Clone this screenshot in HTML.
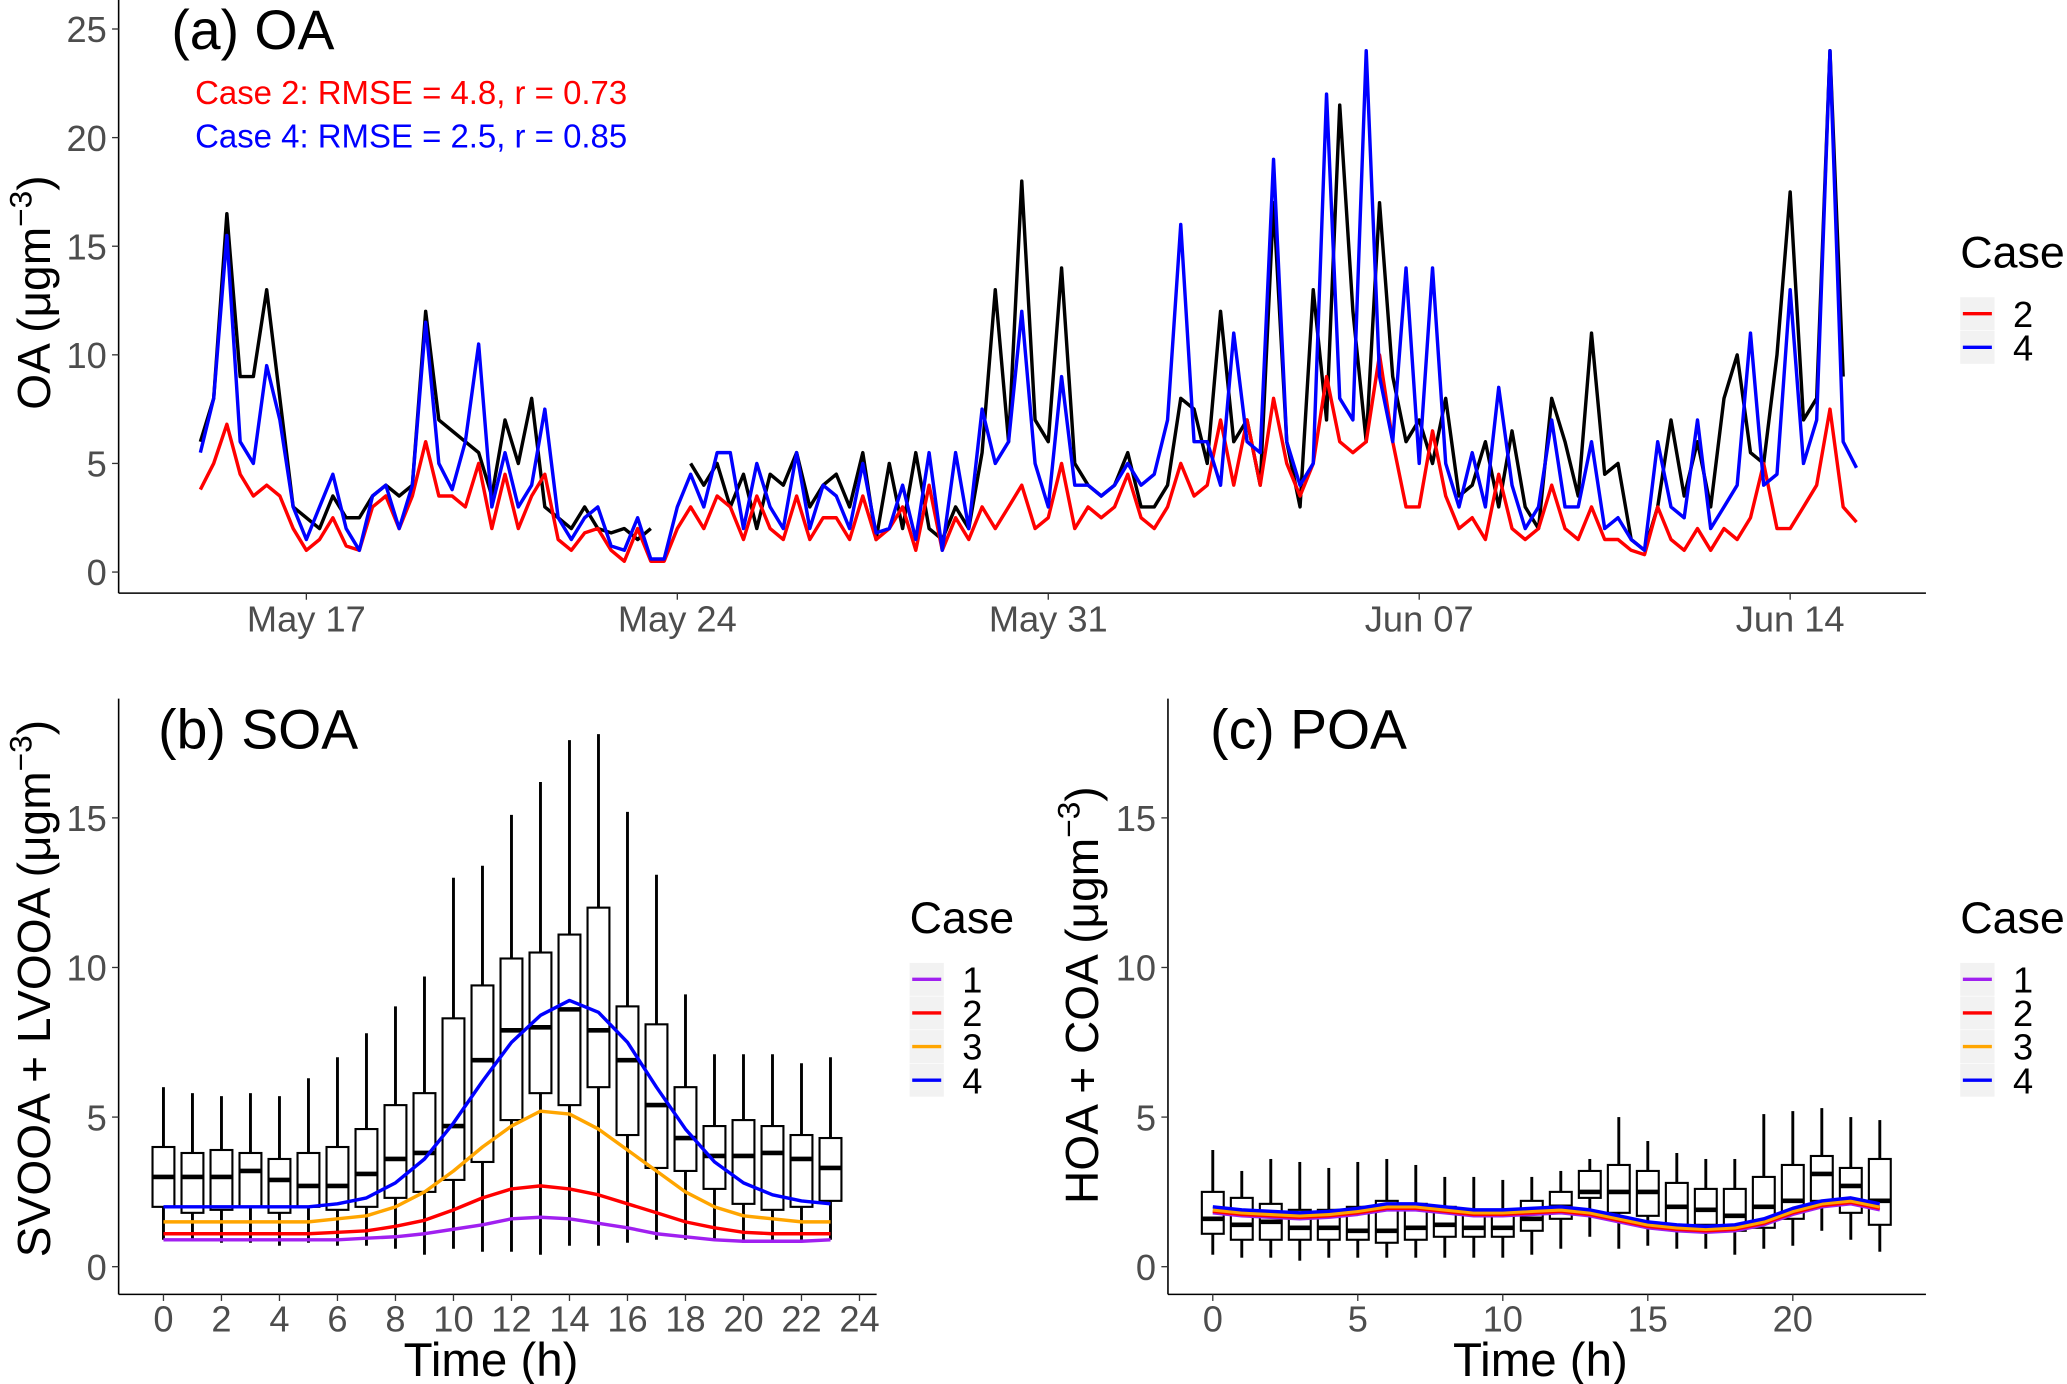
<!DOCTYPE html>
<html><head><meta charset="utf-8"><style>
html,body{margin:0;padding:0;background:#fff}
svg{display:block;font-family:"Liberation Sans",Arial,sans-serif}
</style></head><body>
<svg id="chart" width="2067" height="1384" viewBox="0 0 1568 1050" preserveAspectRatio="none" xmlns="http://www.w3.org/2000/svg">
<rect width="1568" height="1050" fill="#fff"/>
<g id="pa"></g>
<g id="pb"></g>
<g id="pc"></g>
</svg>
<script>
// ---------- Panel (a) data: 6-hourly samples starting May 15 00:00 ----------
const obsOA = [6,8,16.5,9, 9,13,8,3, 2.5,2,3.5,2.5, 2.5,3.5,4,3.5, 4,12,7,6.5, 6,5.5,3.5,7, 5,8,3,2.5, 2,3,2,1.8, 2,1.5,2,null, null,5,4,5, 3,4.5,2,4.5, 4,5.5,3,4, 4.5,3,5.5,1.5, 5,2,5.5,2, 1.5,3,2,5.5, 13,6,18,7, 6,14,5,4, 3.5,4,5.5,3, 3,4,8,7.5, 5,12,6,7, 4,17,6,3, 13,7,21.5,12, 6,17,9,6, 7,5,8,3.5, 4,6,3,6.5, 3,2,8,6, 3.5,11,4.5,5, 1.5,1,3,7, 3.5,6,3,8, 10,5.5,5,10, 17.5,7,8,24, 9];
const case4OA = [5.5,8,15.5,6, 5,9.5,7,3, 1.5,3,4.5,2, 1,3.5,4,2, 4,11.5,5,3.8, 6,10.5,3,5.5, 3,4,7.5,2.5, 1.5,2.5,3,1.2, 1,2.5,0.6,0.6, 3,4.5,3,5.5, 5.5,2,5,3, 2,5.5,2,4, 3.5,2,5,1.8, 2,4,1.5,5.5, 1,5.5,2,7.5, 5,6,12,5, 3,9,4,4, 3.5,4,5,4, 4.5,7,16,6, 6,4,11,6, 5.5,19,6,4, 5,22,8,7, 24,9,6,14, 5,14,5,3, 5.5,3,8.5,4, 2,3,7,3, 3,6,2,2.5, 1.5,1,6,3, 2.5,7,2,3, 4,11,4,4.5, 13,5,7,24, 6,4.8];
const case2OA = [3.8,5,6.8,4.5, 3.5,4,3.5,2, 1,1.5,2.5,1.2, 1,3,3.5,2, 3.5,6,3.5,3.5, 3,5,2,4.5, 2,3.5,4.5,1.5, 1,1.8,2,1, 0.5,2,0.5,0.5, 2,3,2,3.5, 3,1.5,3.5,2, 1.5,3.5,1.5,2.5, 2.5,1.5,3.5,1.5, 2,3,1,4, 1,2.5,1.5,3, 2,3,4,2, 2.5,5,2,3, 2.5,3,4.5,2.5, 2,3,5,3.5, 4,7,4,7, 4,8,5,3.5, 5,9,6,5.5, 6,10,6,3, 3,6.5,3.5,2, 2.5,1.5,4.5,2, 1.5,2,4,2, 1.5,3,1.5,1.5, 1,0.8,3,1.5, 1,2,1,2, 1.5,2.5,5,2, 2,3,4,7.5, 3,2.3];
const dateTicks = ["May 17","May 24","May 31","Jun 07","Jun 14"];
const dateTickDays = [2,9,16,23,30];
const oaTicks = [0,5,10,15,20,25];

// ---------- Panel (b) data ----------
const hours = [0,1,2,3,4,5,6,7,8,9,10,11,12,13,14,15,16,17,18,19,20,21,22,23];
const soaMed = [3.0,3.0,3.0,3.2,2.9,2.7,2.7,3.1,3.6,3.8,4.7,6.9,7.9,8.0,8.6,7.9,6.9,5.4,4.3,3.7,3.7,3.8,3.6,3.3];
const soaQ1 = [2.0,1.8,1.9,2.0,1.8,2.0,1.9,2.0,2.3,2.5,2.9,3.5,4.9,5.8,5.4,6.0,4.4,3.3,3.2,2.6,2.1,1.9,2.0,2.2];
const soaQ3 = [4.0,3.8,3.9,3.8,3.6,3.8,4.0,4.6,5.4,5.8,8.3,9.4,10.3,10.5,11.1,12.0,8.7,8.1,6.0,4.7,4.9,4.7,4.4,4.3];
const soaLo = [0.9,0.9,0.8,0.8,0.7,0.8,0.7,0.7,0.6,0.4,0.6,0.5,0.5,0.4,0.7,0.7,0.8,0.9,0.9,0.9,0.8,0.8,0.9,0.9];
const soaHi = [6.0,5.8,5.7,5.8,5.7,6.3,7.0,7.8,8.7,9.7,13.0,13.4,15.1,16.2,17.6,17.8,15.2,13.1,9.1,7.1,7.1,7.1,6.8,7.0];
const soaC1 = [0.9,0.9,0.9,0.9,0.9,0.9,0.9,0.95,1.0,1.1,1.25,1.4,1.6,1.65,1.6,1.45,1.3,1.1,1.0,0.9,0.85,0.85,0.85,0.9];
const soaC2 = [1.1,1.1,1.1,1.1,1.1,1.1,1.15,1.2,1.35,1.55,1.9,2.3,2.6,2.7,2.6,2.4,2.1,1.8,1.5,1.3,1.15,1.1,1.1,1.1];
const soaC3 = [1.5,1.5,1.5,1.5,1.5,1.5,1.6,1.7,2.0,2.5,3.2,4.0,4.7,5.2,5.1,4.6,3.9,3.2,2.5,2.0,1.7,1.6,1.5,1.5];
const soaC4 = [2.0,2.0,2.0,2.0,2.0,2.0,2.1,2.3,2.8,3.6,4.8,6.2,7.5,8.4,8.9,8.5,7.5,6.0,4.6,3.5,2.8,2.4,2.2,2.1];
const hourTicksB = [0,2,4,6,8,10,12,14,16,18,20,22,24];

// ---------- Panel (c) data ----------
const poaMed = [1.6,1.4,1.5,1.3,1.3,1.2,1.2,1.3,1.4,1.3,1.3,1.6,2.0,2.5,2.5,2.5,2.0,1.9,1.7,2.0,2.2,3.1,2.7,2.2];
const poaQ1 = [1.1,0.9,0.9,0.9,0.9,0.9,0.8,0.9,1.0,1.0,1.0,1.2,1.6,2.3,1.8,1.7,1.4,1.4,1.2,1.3,1.6,2.2,1.8,1.4];
const poaQ3 = [2.5,2.3,2.1,1.9,1.9,2.0,2.2,2.1,2.0,1.9,1.9,2.2,2.5,3.2,3.4,3.2,2.8,2.6,2.6,3.0,3.4,3.7,3.3,3.6];
const poaLo = [0.4,0.3,0.3,0.2,0.3,0.3,0.3,0.3,0.3,0.3,0.3,0.4,0.6,1.0,0.6,0.7,0.6,0.6,0.4,0.6,0.7,1.2,0.9,0.5];
const poaHi = [3.9,3.2,3.6,3.5,3.3,3.5,3.6,3.4,3.0,3.0,2.9,3.0,3.2,3.6,5.0,4.2,3.8,3.6,3.6,5.1,5.2,5.3,5.0,4.9];
const poaC1 = [1.8,1.7,1.65,1.6,1.65,1.75,1.9,1.9,1.8,1.7,1.7,1.75,1.8,1.7,1.5,1.3,1.2,1.15,1.2,1.4,1.75,2.0,2.1,1.9];
const poaC2 = [1.85,1.75,1.7,1.65,1.7,1.8,1.95,1.95,1.85,1.75,1.75,1.8,1.85,1.75,1.55,1.35,1.25,1.2,1.25,1.45,1.8,2.05,2.15,1.95];
const poaC3 = [1.9,1.8,1.75,1.7,1.75,1.85,2.0,2.0,1.9,1.8,1.8,1.85,1.9,1.8,1.6,1.4,1.3,1.25,1.3,1.5,1.85,2.1,2.2,2.0];
const poaC4 = [2.0,1.9,1.85,1.8,1.85,1.95,2.1,2.1,2.0,1.9,1.9,1.95,2.0,1.9,1.7,1.5,1.4,1.35,1.4,1.6,1.95,2.2,2.3,2.1];
const hourTicksC = [0,5,10,15,20];
const bcTicks = [0,5,10,15];

const NS = "http://www.w3.org/2000/svg";
function mk(parent, tag, attrs, text) {
  const e = document.createElementNS(NS, tag);
  for (const k in attrs) e.setAttribute(k, attrs[k]);
  if (text !== undefined) e.textContent = text;
  parent.appendChild(e);
  return e;
}
const GRAY = "#4d4d4d";
const TICK = 27.5;

// ================= Panel a =================
(function(){
  const g = document.getElementById('pa');
  const xa = d => 152 + 40.2 * d;
  const ya = v => 434 - 16.48 * v;
  let e;
  e = mk(g, 'line', {x1:90, y1:0, x2:90, y2:450, stroke:'#000', 'stroke-width':1.2});
  
  
  e = mk(g, 'line', {x1:90, y1:450, x2:1461, y2:450, stroke:'#000', 'stroke-width':1.2});
  
  
  oaTicks.forEach(v => {
    mk(g, 'line', {x1:85, y1:ya(v), x2:90, y2:ya(v), stroke:'#333', 'stroke-width':1});
    e = mk(g, 'text', {x:81, y:ya(v)+10, 'text-anchor':'end', 'font-size':TICK, fill:GRAY}, String(v));
    
    
  });
  dateTicks.forEach((t, i) => {
    const x = xa(dateTickDays[i]);
    mk(g, 'line', {x1:x, y1:450, x2:x, y2:455, stroke:'#333', 'stroke-width':1});
    e = mk(g, 'text', {x:x, y:479, 'text-anchor':'middle', 'font-size':TICK, fill:GRAY}, t);
    
    
  });
  function series(arr, color, name) {
    let segs = [], cur = [];
    arr.forEach((v, i) => {
      if (v === null) { if (cur.length) segs.push(cur); cur = []; }
      else cur.push(xa(i*0.25).toFixed(1) + ',' + ya(v).toFixed(1));
    });
    if (cur.length) segs.push(cur);
    segs.forEach(s => {
      const p = mk(g, 'polyline', {points:s.join(' '), fill:'none', stroke:color, 'stroke-width':2.6, 'stroke-linejoin':'round'});
      
      
    });
  }
  series(obsOA, '#000', 'observed-oa-line');
  series(case2OA, '#ff0000', 'case2-oa-line');
  series(case4OA, '#0000ff', 'case4-oa-line');
  e = mk(g, 'text', {x:130, y:37, 'font-size':42, fill:'#000'}, '(a) OA');
  
  
  e = mk(g, 'text', {x:148, y:79, 'font-size':25, fill:'#ff0000'}, 'Case 2: RMSE = 4.8, r = 0.73');
  
  
  e = mk(g, 'text', {x:148, y:112, 'font-size':25, fill:'#0000ff'}, 'Case 4: RMSE = 2.5, r = 0.85');
  
  
  const yt = mk(g, 'text', {transform:'translate(38,222) rotate(-90)', 'text-anchor':'middle', 'font-size':35, fill:'#000'});
  yt.innerHTML = 'OA (μgm<tspan dy="-14" font-size="24">−3</tspan><tspan dy="14">)</tspan>';
  
  
})();

function legend(g, x, y, cases, colors, name) {
  let e = mk(g, 'text', {x:x, y:y, 'font-size':34, fill:'#000'}, 'Case');
  
  
  cases.forEach((c, i) => {
    const cy = y + 35 + i * 25.5;
    mk(g, 'rect', {x:x, y:cy-12.5, width:26, height:25, fill:'#f2f2f2'});
    const l = mk(g, 'line', {x1:x+2, y1:cy, x2:x+24, y2:cy, stroke:colors[i], 'stroke-width':2.6});
    
    
    const t = mk(g, 'text', {x:x+40, y:cy+10, 'font-size':TICK, fill:'#000'}, c);
    
    
  });
}
legend(document.getElementById('pa'), 1487, 203, ['2','4'], ['#ff0000','#0000ff'], 'legend-a');

function boxPanel(gid, x0, xAxisL, xAxisR, pxh, ticks, med, q1, q3, lo, hi, cs, title, titleX, yTitleHTML, yTitleX, yTitleY, legX, tag) {
  const g = document.getElementById(gid);
  const x = h => x0 + pxh * h;
  const y = v => 961 - 22.7 * v;
  let e;
  e = mk(g, 'line', {x1:xAxisL, y1:530, x2:xAxisL, y2:982, stroke:'#000', 'stroke-width':1.2});
  
  
  e = mk(g, 'line', {x1:xAxisL, y1:982, x2:xAxisR, y2:982, stroke:'#000', 'stroke-width':1.2});
  
  
  bcTicks.forEach(v => {
    mk(g, 'line', {x1:xAxisL-5, y1:y(v), x2:xAxisL, y2:y(v), stroke:'#333'});
    e = mk(g, 'text', {x:xAxisL-9, y:y(v)+10, 'text-anchor':'end', 'font-size':TICK, fill:GRAY}, String(v));
    
    
  });
  ticks.forEach(h => {
    mk(g, 'line', {x1:x(h), y1:982, x2:x(h), y2:987, stroke:'#333'});
    e = mk(g, 'text', {x:x(h), y:1010, 'text-anchor':'middle', 'font-size':TICK, fill:GRAY}, String(h));
    
    
  });
  hours.forEach((h, i) => {
    const cx = x(h), w = 8.3;
    const bg = mk(g, 'g', {});
    
    
    mk(bg, 'line', {x1:cx, y1:y(hi[i]), x2:cx, y2:y(q3[i]), stroke:'#000', 'stroke-width':2.2});
    mk(bg, 'line', {x1:cx, y1:y(q1[i]), x2:cx, y2:y(lo[i]), stroke:'#000', 'stroke-width':2.2});
    mk(bg, 'rect', {x:cx-w, y:y(q3[i]), width:2*w, height:y(q1[i])-y(q3[i]), fill:'#fff', stroke:'#000', 'stroke-width':1.6});
    mk(bg, 'line', {x1:cx-w, y1:y(med[i]), x2:cx+w, y2:y(med[i]), stroke:'#000', 'stroke-width':3.5});
  });
  const colors = ['#a020f0','#ff0000','#ffa500','#0000ff'];
  cs.forEach((arr, k) => {
    const p = mk(g, 'polyline', {points: hours.map((h,i)=>x(h).toFixed(1)+','+y(arr[i]).toFixed(1)).join(' '), fill:'none', stroke:colors[k], 'stroke-width':2.6, 'stroke-linejoin':'round'});
    
    
  });
  e = mk(g, 'text', {x:titleX, y:568, 'font-size':42, fill:'#000'}, title);
  
  
  e = mk(g, 'text', {x:(xAxisL+xAxisR)/2 - 5, y:1044, 'text-anchor':'middle', 'font-size':36, fill:'#000'}, 'Time (h)');
  
  
  const yt = mk(g, 'text', {transform:'translate('+yTitleX+','+yTitleY+') rotate(-90)', 'text-anchor':'middle', 'font-size':35, fill:'#000'});
  yt.innerHTML = yTitleHTML;
  
  
  legend(g, legX, 708, ['1','2','3','4'], colors, 'legend-' + tag);
}
boxPanel('pb', 124, 90, 665, 22, hourTicksB, soaMed, soaQ1, soaQ3, soaLo, soaHi, [soaC1,soaC2,soaC3,soaC4], '(b) SOA', 120,
  'SVOOA + LVOOA (μgm<tspan dy="-14" font-size="24">−3</tspan><tspan dy="14">)</tspan>', 38, 750, 690, 'b');
boxPanel('pc', 920, 886, 1461, 22, hourTicksC, poaMed, poaQ1, poaQ3, poaLo, poaHi, [poaC1,poaC2,poaC3,poaC4], '(c) POA', 918,
  'HOA + COA (μgm<tspan dy="-14" font-size="24">−3</tspan><tspan dy="14">)</tspan>', 833, 755, 1487, 'c');
</script>
</body></html>
